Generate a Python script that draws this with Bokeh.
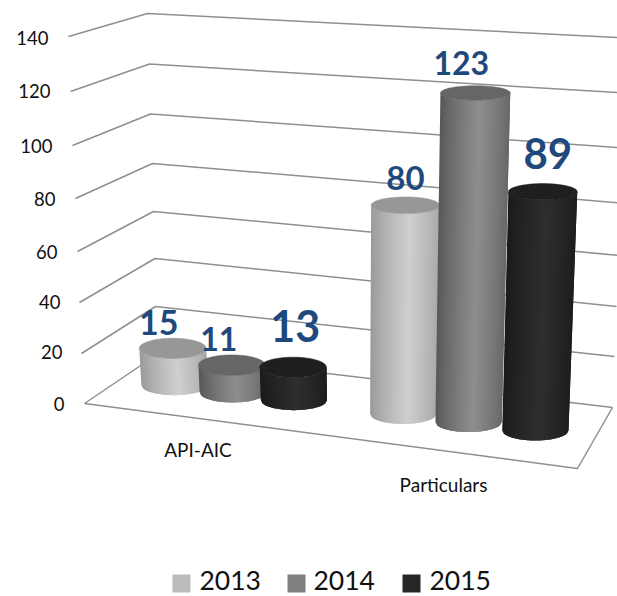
import numpy as np
from bokeh.plotting import figure
from bokeh.models import Range1d, ColumnDataSource
from bokeh.core.properties import value
from bokeh.embed import file_html
from bokeh.resources import INLINE

# ---- data
categories = ["API-AIC", "Particulars"]
series_names = ["2013", "2014", "2015"]
values_2013 = [15, 80]
values_2014 = [11, 123]
values_2015 = [13, 89]
tick_values = [0, 20, 40, 60, 80, 100, 120, 140]

# ---- 3D box calibration (screen position of each wall corner per tick)
FL_x = [84, 81, 79, 77, 75, 72, 70, 68]
FL_y = [403, 353, 302, 251, 198, 145, 91, 36]
BL_x = [158, 155, 154.5, 153, 152, 150, 149, 147]
BL_y = [353, 306, 258, 211, 163, 113.5, 63.5, 13]
BR_x = [612, 614, 616, 618, 620, 622, 624, 626]
BR_y = [407, 356, 306, 255, 202.5, 147.5, 92.5, 37.5]
FR0 = (577, 468)
FR_dx, FR_dy = 0.12, 2.85

cat_u = [0.235, 0.735]
ser_du = [[-0.123, 0.0, 0.129], [-0.14, -0.002, 0.139]]
depth = 0.5
radius_u = 0.07
ry_base, ry_slope = 10.5, 0.027

sans = "Lato"
label_color = "#1F497D"
label_sizes = [[34, 33], [32, 32], [43, 42]]
label_off = [[(-14, -26), (0, -27)], [(-13, -26), (-14, -30)], [(2, -41), (5, -38)]]
colors_edge = [("#989898", "#a6a6a6"), ("#565656", "#666666"), ("#1a1a1a", "#1c1c1c")]
colors_mid = ["#cfcfcf", "#8e8e8e", "#2e2e2e"]
colors_top = ["#979797", "#666666", "#1f1f1f"]
legend_colors = ["#bbbbbb", "#7f7f7f", "#262626"]
grid_color = "#8f8f8f"


def corner(xs, ys, v):
    return np.array([np.interp(v, tick_values, xs), np.interp(v, tick_values, ys)])


def project(u, d, v):
    fl = corner(FL_x, FL_y, v)
    bl = corner(BL_x, BL_y, v)
    br = corner(BR_x, BR_y, v)
    fr = np.array([FR0[0] + FR_dx * v, FR0[1] - FR_dy * v])
    return (1 - d) * ((1 - u) * fl + u * fr) + d * ((1 - u) * bl + u * br)


def hex2rgb(h):
    return np.array([int(h[i:i + 2], 16) for i in (1, 3, 5)], dtype=float)


def mix(a, b, t):
    c = hex2rgb(a) * (1 - t) + hex2rgb(b) * t
    return "#%02x%02x%02x" % tuple(int(round(x)) for x in c)


p = figure(width=617, height=596, x_range=Range1d(0, 617), y_range=Range1d(596, 0),
           output_backend="svg", toolbar_location=None,
           min_border=0, background_fill_color="white", border_fill_color="white")
p.axis.visible = False
p.grid.visible = False
p.outline_line_color = None

# ---- walls and floor
for i, t in enumerate(tick_values):
    a, b, c = corner(FL_x, FL_y, t), corner(BL_x, BL_y, t), corner(BR_x, BR_y, t)
    p.line([a[0], b[0], c[0]], [a[1], b[1], c[1]], line_color=grid_color, line_width=1.5)
fl0, br0 = corner(FL_x, FL_y, 0), corner(BR_x, BR_y, 0)
p.line([fl0[0], FR0[0], br0[0]], [fl0[1], FR0[1], br0[1]], line_color=grid_color, line_width=1.5)

# ---- tick labels
tick_right = [64, 62, 60, 57, 55, 52, 50, 48]
tick_y = [403, 351, 301, 251, 198, 145, 90, 37]
p.text(tick_right, tick_y, text=[str(t) for t in tick_values], text_font=value(sans),
       text_font_size="18.5px", text_align="right", text_baseline="middle", text_color="#111111")

# ---- cylinders
all_values = [values_2013, values_2014, values_2015]
N = 40
for ci in range(len(categories)):
    for si in range(len(series_names)):
        val = all_values[si][ci]
        u = cat_u[ci] + ser_du[ci][si]
        bl, br = project(u - radius_u, depth, 0), project(u + radius_u, depth, 0)
        tl, tr = project(u - radius_u, depth, val), project(u + radius_u, depth, val)
        bc, tc = (bl + br) / 2, (tl + tr) / 2
        brx, trx = (br[0] - bl[0]) / 2, (tr[0] - tl[0]) / 2
        ry_t = ry_base - ry_slope * val
        ry_b = 10.0
        ts = np.linspace(-1, 1, N + 1)
        xs, ys, cols = [], [], []
        for k in range(N):
            m = (ts[k] + ts[k + 1]) / 2
            span = ts[k:min(k + 3, N + 1)]  # overlaps its right neighbour, so no seams
            s = np.sqrt(np.clip(1 - span * span, 0, None))
            xs.append(list(tc[0] + trx * span) + list(bc[0] + brx * span[::-1]))
            ys.append(list(tc[1] + ry_t * s) + list(bc[1] + ry_b * s[::-1]))
            peak = 0.12
            if m < peak:
                w = (m + 1) / (peak + 1)
                cols.append(mix(colors_edge[si][0], colors_mid[si], w ** 0.8))
            else:
                w = (1 - m) / (1 - peak)
                cols.append(mix(colors_edge[si][1], colors_mid[si], w ** 0.8))
        src = ColumnDataSource(dict(xs=xs, ys=ys, c=cols))
        p.patches("xs", "ys", source=src, fill_color="c", line_color=None)
        th = np.linspace(0, 2 * np.pi, 73)
        p.patch(tc[0] + trx * np.cos(th), tc[1] + ry_t * np.sin(th),
                fill_color=colors_top[si], line_color=colors_top[si], line_width=0.5)
        dx, dy = label_off[si][ci]
        p.text([tc[0] + dx], [tc[1] + dy], text=[str(val)], text_font=value(sans),
               text_font_style="bold", text_font_size=f"{label_sizes[si][ci]}px",
               text_align="center", text_baseline="middle", text_color=label_color)

# ---- category labels
p.text([197.5, 443], [449, 484], text=categories, text_font=value(sans),
       text_font_size="19px", text_align="center", text_baseline="middle", text_color="#111111")

# ---- legend
sq_left = [172, 287, 402]
txt_left = [199, 313, 429]
p.quad(left=sq_left, right=[x + 18 for x in sq_left], top=[574] * 3, bottom=[592] * 3,
       fill_color=legend_colors, line_color=None)
p.text(txt_left, [580] * 3, text=series_names, text_font=value(sans), text_font_size="26.5px",
       text_align="left", text_baseline="middle", text_color="#111111")

open("out.html", "w").write(file_html(p, INLINE))
